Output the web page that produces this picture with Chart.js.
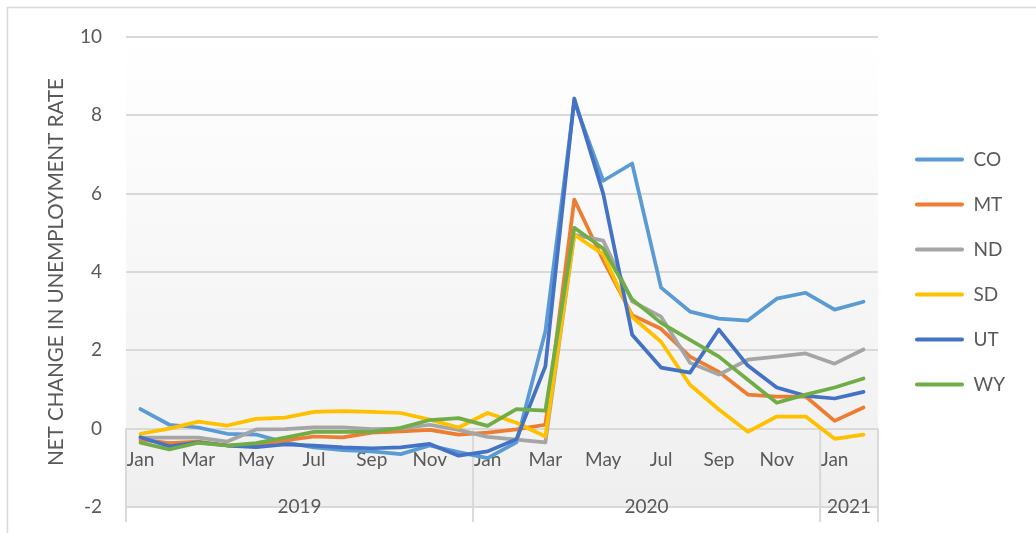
<!DOCTYPE html>
<html>
<head>
<meta charset="utf-8">
<script src="https://cdn.jsdelivr.net/npm/chart.js@4.4.1/dist/chart.umd.min.js"></script>
<style>
  html, body { margin: 0; padding: 0; background: #fff; }
  #wrap { width: 1036px; height: 533px; }
</style>
</head>
<body>
<div id="wrap"><canvas id="rateChart"></canvas></div>
<script>
// Jan 2019 .. Feb 2021, one point per month
const months = ['Jan', 'Feb', 'Mar', 'Apr', 'May', 'Jun', 'Jul', 'Aug', 'Sep', 'Oct', 'Nov', 'Dec',
                'Jan', 'Feb', 'Mar', 'Apr', 'May', 'Jun', 'Jul', 'Aug', 'Sep', 'Oct', 'Nov', 'Dec',
                'Jan', 'Feb'];
const years = ['2019', '2020', '2021'];
const monthsPerYear = [12, 12, 2];

const coValues = [0.5, 0.1, 0.03, -0.13, -0.15, -0.35, -0.48, -0.55, -0.58, -0.65, -0.43, -0.6,
                  -0.75, -0.35, 2.48, 8.35, 6.33, 6.77, 3.6, 2.99, 2.81, 2.76, 3.32, 3.47, 3.04, 3.24];
const mtValues = [-0.28, -0.37, -0.33, -0.43, -0.4, -0.3, -0.2, -0.22, -0.1, -0.07, -0.03, -0.15,
                  -0.1, -0.02, 0.1, 5.85, 4.3, 2.9, 2.55, 1.84, 1.45, 0.87, 0.82, 0.82, 0.2, 0.54];
const ndValues = [-0.23, -0.23, -0.23, -0.33, -0.02, -0.01, 0.03, 0.03, -0.01, 0.0, 0.1, -0.03,
                  -0.21, -0.28, -0.35, 4.95, 4.8, 3.25, 2.86, 1.68, 1.38, 1.76, 1.84, 1.92, 1.66, 2.02];
const sdValues = [-0.13, 0.0, 0.18, 0.08, 0.25, 0.28, 0.43, 0.45, 0.43, 0.4, 0.23, 0.03,
                  0.4, 0.15, -0.2, 4.95, 4.45, 2.85, 2.22, 1.12, 0.49, -0.08, 0.31, 0.31, -0.26, -0.15];
const utValues = [-0.22, -0.45, -0.35, -0.43, -0.47, -0.4, -0.43, -0.48, -0.5, -0.48, -0.39, -0.69,
                  -0.58, -0.27, 1.59, 8.43, 6.0, 2.4, 1.56, 1.43, 2.53, 1.61, 1.05, 0.84, 0.77, 0.94];
const wyValues = [-0.36, -0.53, -0.36, -0.43, -0.37, -0.23, -0.08, -0.08, -0.08, 0.02, 0.22, 0.27,
                  0.07, 0.5, 0.46, 5.13, 4.6, 3.3, 2.7, 2.27, 1.84, 1.25, 0.66, 0.87, 1.05, 1.28];

const states = ['CO', 'MT', 'ND', 'SD', 'UT', 'WY'];
const stateValues = [coValues, mtValues, ndValues, sdValues, utValues, wyValues];
const stateColors = ['#5B9BD5', '#ED7D31', '#A5A5A5', '#FFC000', '#4472C4', '#70AD47'];

const textColor = '#595959';
const lineGray = '#d9d9d9';
const fontFamily = 'Lato, "Open Sans", sans-serif';

Chart.defaults.font.family = fontFamily;
Chart.defaults.color = textColor;

// white page, thin frame and the soft white-to-gray fill behind the plot
const plotBackground = {
    id: 'plotBackground',
    beforeDraw(chart) {
        const { ctx, chartArea: a } = chart;
        ctx.save();
        ctx.fillStyle = '#fff';
        ctx.fillRect(0, 0, chart.width, chart.height);
        const grad = ctx.createLinearGradient(0, a.top, 0, a.bottom);
        grad.addColorStop(0, '#ffffff');
        grad.addColorStop(1, '#efefef');
        ctx.fillStyle = grad;
        ctx.fillRect(a.left, a.top, a.right - a.left, a.bottom - a.top);
        ctx.strokeStyle = lineGray;
        ctx.lineWidth = 1.5;
        ctx.strokeRect(7.5, 7.5, chart.width + 20, chart.height + 20);
        ctx.restore();
    }
};

// second row of the category axis: year groups with divider lines
const yearAxis = {
    id: 'yearAxis',
    beforeDatasetsDraw(chart) {
        const { ctx, chartArea: a, scales: { x, y } } = chart;
        const top = y.getPixelForValue(0);
        const bottom = a.bottom + 15;
        const edges = [a.left];
        let idx = 0;
        monthsPerYear.forEach(n => {
            idx += n;
            edges.push(idx >= months.length ? a.right
                : (x.getPixelForValue(idx - 1) + x.getPixelForValue(idx)) / 2);
        });
        ctx.save();
        ctx.strokeStyle = lineGray;
        ctx.lineWidth = 2;
        edges.forEach(ex => {
            ctx.beginPath();
            ctx.moveTo(ex, top);
            ctx.lineTo(ex, bottom);
            ctx.stroke();
        });
        ctx.fillStyle = textColor;
        ctx.font = '19px ' + fontFamily;
        ctx.textAlign = 'center';
        ctx.textBaseline = 'middle';
        years.forEach((yr, k) => {
            ctx.fillText(yr, (edges[k] + edges[k + 1]) / 2, a.bottom);
        });
        ctx.restore();
    }
};

const datasets = states.map((name, i) => ({
    label: name,
    data: stateValues[i],
    borderColor: stateColors[i],
    backgroundColor: stateColors[i],
    borderWidth: 3.75,
    borderJoinStyle: 'round',
    borderCapStyle: 'round',
    pointRadius: 0,
    tension: 0,
    order: states.length - i
}));

new Chart(document.getElementById('rateChart'), {
    type: 'line',
    data: { labels: months, datasets: datasets },
    options: {
        responsive: true,
        maintainAspectRatio: false,
        animation: false,
        layout: { padding: { left: 8, top: 37, bottom: 26, right: 21 } },
        plugins: {
            tooltip: { enabled: false },
            legend: {
                position: 'right',
                labels: {
                    boxWidth: 49,
                    boxHeight: 4,
                    padding: 26,
                    useBorderRadius: true,
                    borderRadius: 2,
                    color: textColor,
                    font: { size: 19 },
                    sort: (a, b) => a.datasetIndex - b.datasetIndex,
                    generateLabels(chart) {
                        return Chart.defaults.plugins.legend.labels.generateLabels(chart)
                            .map(item => Object.assign(item, { lineWidth: 0 }));
                    }
                }
            }
        },
        scales: {
            x: {
                type: 'category',
                position: { y: 0 },
                offset: true,
                grid: { display: false },
                border: { color: lineGray, width: 2 },
                ticks: {
                    autoSkip: false,
                    maxRotation: 0,
                    padding: 12,
                    font: { size: 19 },
                    callback: function (val, i) {
                        return i % 2 === 0 ? this.getLabelForValue(val) : '';
                    }
                }
            },
            y: {
                min: -2,
                max: 10,
                ticks: { stepSize: 2, padding: 24, font: { size: 19 } },
                grid: { color: lineGray, lineWidth: 2, drawTicks: false },
                border: { display: false },
                title: {
                    display: true,
                    text: 'NET CHANGE IN UNEMPLOYMENT RATE',
                    font: { size: 20.5 },
                    padding: { top: 36, bottom: 0 }
                },
                // fixed axis width; tick padding should not push the plot edges in
                afterFit: s => {
                    s.width = 118;
                    s.paddingTop = 0;
                    s.paddingBottom = 0;
                }
            },
            gap: {
                type: 'linear',
                position: 'right',
                grid: { display: false },
                border: { display: false },
                ticks: { display: false },
                afterFit: s => { s.width = 11; }
            }
        }
    },
    plugins: [plotBackground, yearAxis]
});
</script>
</body>
</html>
